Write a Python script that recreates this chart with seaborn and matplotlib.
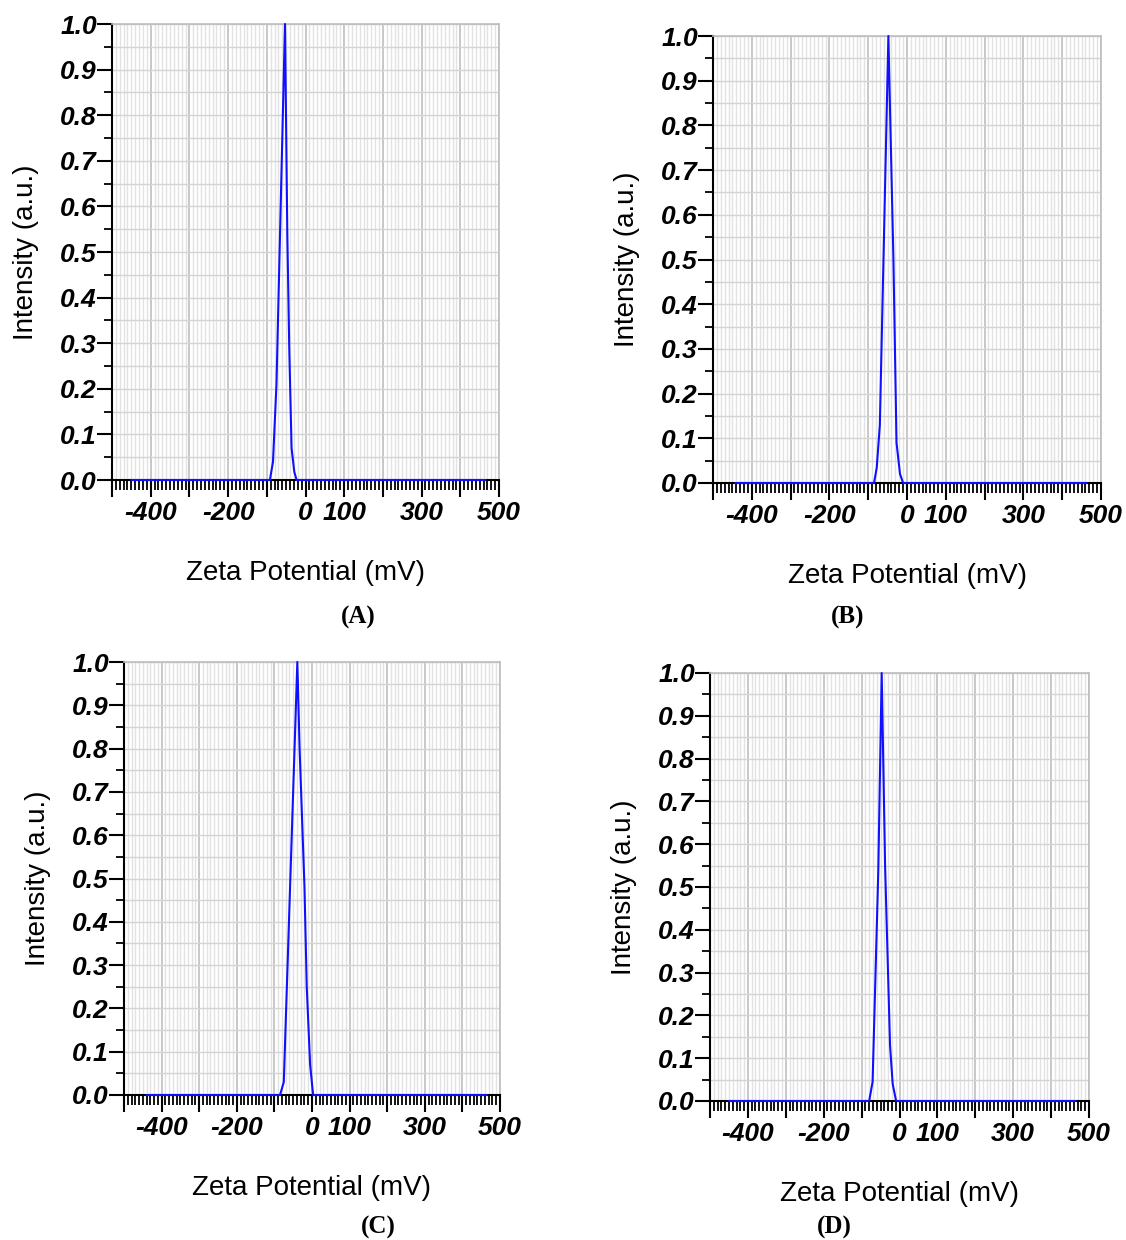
import matplotlib
matplotlib.use("Agg")
import matplotlib.pyplot as plt
from matplotlib.ticker import FixedLocator, MultipleLocator, FuncFormatter
import numpy as np
import pandas as pd
import seaborn as sns

# Zeta potential distributions (mV vs normalised intensity)
zeta_A = [-450, -92, -84, -75, -53, -47, -42, -36, -29, -23, 465]
int_A = [0.0, 0.0, 0.04, 0.21, 1.0, 0.54, 0.29, 0.07, 0.018, 0.0, 0.0]

zeta_B = [-443, -85, -78, -70, -48, -35, -27, -18, -10, 463]
int_B = [0.0, 0.0, 0.034, 0.13, 1.0, 0.50, 0.09, 0.02, 0.0, 0.0]

zeta_C = [-440, -85, -75, -39, -33, -20, -14, -5, 3, 465]
int_C = [0.0, 0.0, 0.03, 1.0, 0.80, 0.48, 0.25, 0.07, 0.0, 0.0]

zeta_D = [-450, -80, -71, -56, -47, -38, -25, -18, -9, 465]
int_D = [0.0, 0.0, 0.045, 0.535, 1.0, 0.55, 0.13, 0.04, 0.0, 0.0]

panel_tags = ["(A)", "(B)", "(C)", "(D)"]
x_labeled = [-400, -200, 0, 100, 300, 500]
y_ticks = [round(0.1 * i, 1) for i in range(11)]

sns.set_theme(style="white")
plt.rcParams["font.family"] = ["Liberation Sans", "DejaVu Sans"]
plt.rcParams["text.color"] = "black"

W, H = 1126, 1240
fig = plt.figure(figsize=(W / 100, H / 100), dpi=100)

# axes boxes in pixels: left, right, top, bottom
boxes = [
    (112, 499, 24, 480),
    (713, 1101, 36, 483),
    (124, 500, 662, 1095),
    (710, 1089, 673, 1101),
]
series = [(zeta_A, int_A), (zeta_B, int_B), (zeta_C, int_C), (zeta_D, int_D)]
tag_pos = [(358, 617), (848, 617), (378, 1227), (834, 1227)]

for (l, r, t, b), (zx, zy), tag, (tx, ty) in zip(boxes, series, panel_tags, tag_pos):
    ax = fig.add_axes([l / W, 1 - b / H, (r - l) / W, (b - t) / H])
    df = pd.DataFrame({"zeta": zx, "intensity": zy})
    sns.lineplot(data=df, x="zeta", y="intensity", ax=ax, color="#1010ff",
                 linewidth=1.5, zorder=5, sort=False)
    for ln in ax.get_lines():
        ln.set_clip_on(False)
    ax.set_xlim(-500, 500)
    ax.set_ylim(0, 1.0)

    ax.xaxis.set_major_locator(MultipleLocator(100))
    ax.xaxis.set_minor_locator(MultipleLocator(10))
    ax.xaxis.set_major_formatter(FuncFormatter(
        lambda v, p: f"{int(round(v))}" if int(round(v)) in x_labeled else ""))
    ax.yaxis.set_major_locator(FixedLocator(y_ticks))
    ax.yaxis.set_minor_locator(MultipleLocator(0.05))
    ax.yaxis.set_major_formatter(FuncFormatter(lambda v, p: f"{v:.1f}"))

    ax.grid(which="minor", axis="x", color="#e2e2e2", linewidth=1.0)
    ax.grid(which="major", axis="x", color="#c4c4c4", linewidth=1.3)
    ax.grid(which="both", axis="y", color="#d4d4d4", linewidth=1.0)
    ax.set_axisbelow(True)

    ax.tick_params(axis="x", which="major", direction="out", length=12, width=1.5,
                   color="black", pad=3, bottom=True)
    ax.tick_params(axis="x", which="minor", direction="out", length=7, width=1.3,
                   color="black", bottom=True)
    ax.tick_params(axis="y", which="major", direction="out", length=11, width=1.5,
                   color="black", pad=0, left=True)
    ax.tick_params(axis="y", which="minor", direction="out", length=6, width=1.3,
                   color="black", left=True)
    for lab in ax.get_xticklabels() + ax.get_yticklabels():
        lab.set_fontsize(19)
        lab.set_fontweight("bold")
        lab.set_fontstyle("italic")
        lab.set_color("black")

    for side in ("left", "bottom"):
        ax.spines[side].set_color("black")
        ax.spines[side].set_linewidth(1.5)
    for side in ("top", "right"):
        ax.spines[side].set_color("#bdbdbd")
        ax.spines[side].set_linewidth(1.2)

    ax.set_xlabel("Zeta Potential (mV)", fontsize=20, color="black", labelpad=25)
    ax.set_ylabel("Intensity (a.u.)", fontsize=20, color="black", labelpad=15)

    fig.text(tx / W, 1 - ty / H, tag, ha="center", va="center", fontsize=18,
             fontweight="bold", color="black",
             family=["Liberation Serif", "DejaVu Serif"])

fig.savefig("out.png", dpi=100, facecolor="white")
